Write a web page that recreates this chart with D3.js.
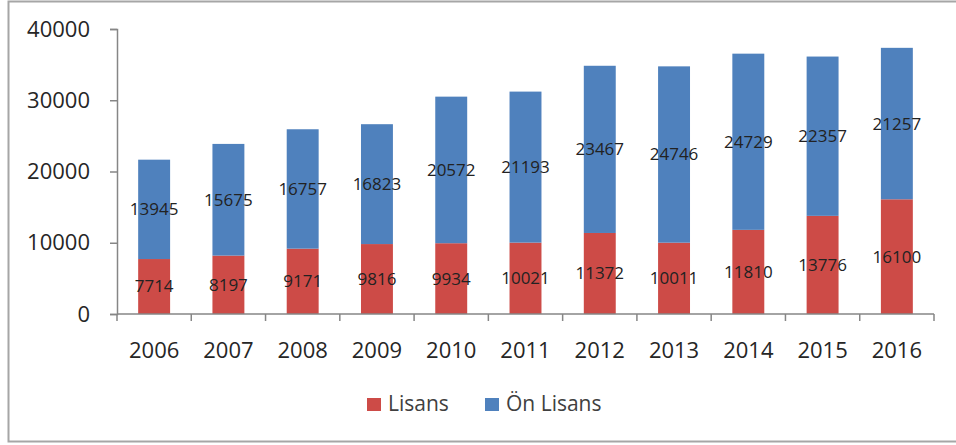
<!DOCTYPE html>
<html>
<head>
<meta charset="utf-8">
<script src="https://cdn.jsdelivr.net/npm/d3@7"></script>
<style>
  body { margin: 0; background: #fff; }
  svg { display: block; font-family: "Open Sans", "Noto Sans", sans-serif; }
</style>
</head>
<body>
<div id="chart"></div>
<script>
// data
var years = ["2006", "2007", "2008", "2009", "2010", "2011", "2012", "2013", "2014", "2015", "2016"];
var lisans = [7714, 8197, 9171, 9816, 9934, 10021, 11372, 10011, 11810, 13776, 16100];
var onLisans = [13945, 15675, 16757, 16823, 20572, 21193, 23467, 24746, 24729, 22357, 21257];
var seriesNames = ["Lisans", "Ön Lisans"];
var yTicks = [0, 10000, 20000, 30000, 40000];

var colors = { "Lisans": "#CD4B47", "Ön Lisans": "#4F81BD" };

var width = 956, height = 445;
var margin = { left: 117, right: 22, top: 29, bottom: 131 };
var plotW = width - margin.left - margin.right;
var plotH = height - margin.top - margin.bottom;

var svg = d3.select("#chart").append("svg")
    .attr("width", width)
    .attr("height", height);

// outer chart frame
svg.append("rect")
    .attr("x", 8.5).attr("y", 1.5)
    .attr("width", 960).attr("height", 440)
    .attr("fill", "#fff")
    .attr("stroke", "#a6a6a6")
    .attr("stroke-width", 2);

var rows = years.map(function(y, i) {
    return { year: y, "Lisans": lisans[i], "Ön Lisans": onLisans[i] };
});
var stacked = d3.stack().keys(seriesNames)(rows);

var x = d3.scaleBand().domain(years).range([0, plotW]).paddingInner(0.57).paddingOuter(0.285);
var xTicks = d3.scaleBand().domain(years).range([0, plotW]);
var y = d3.scaleLinear().domain([0, 40000]).range([plotH, 0]);

var g = svg.append("g").attr("transform", "translate(" + margin.left + "," + margin.top + ")");

// bars
var layers = g.selectAll(".layer").data(stacked).enter().append("g")
    .attr("class", "layer")
    .attr("fill", function(d) { return colors[d.key]; });

layers.selectAll("rect").data(function(d) { return d; }).enter().append("rect")
    .attr("x", function(d) { return x(d.data.year); })
    .attr("y", function(d) { return y(d[1]); })
    .attr("width", x.bandwidth())
    .attr("height", function(d) { return y(d[0]) - y(d[1]); });

// value labels, centered in each segment
layers.selectAll("text").data(function(d) { return d; }).enter().append("text")
    .attr("x", function(d) { return x(d.data.year) + x.bandwidth() / 2; })
    .attr("y", function(d) { return y((d[0] + d[1]) / 2); })
    .attr("dy", "0.35em")
    .attr("text-anchor", "middle")
    .attr("fill", "#222")
    .style("font-size", "17px")
    .text(function(d) { return d[1] - d[0]; });

// y axis
var yAxis = g.append("g")
    .call(d3.axisLeft(y).tickValues(yTicks).tickSize(7).tickPadding(20).tickFormat(d3.format("d")));
yAxis.select(".domain").attr("stroke", "#868686").attr("stroke-width", 1.5);
yAxis.selectAll(".tick line").attr("stroke", "#868686").attr("stroke-width", 1.5);
yAxis.selectAll(".tick text")
    .attr("fill", "#262626")
    .style("font-size", "22px")
    .style("font-family", "'Open Sans', sans-serif");

// x axis: line with ticks between categories
var xg = g.append("g").attr("transform", "translate(0," + plotH + ")");
xg.append("line")
    .attr("x1", 0).attr("x2", plotW)
    .attr("stroke", "#868686").attr("stroke-width", 1.5);
var boundaries = years.map(function(d) { return xTicks(d); }).concat([plotW]);
xg.selectAll(".xt").data(boundaries).enter().append("line")
    .attr("class", "xt")
    .attr("x1", function(d) { return d; }).attr("x2", function(d) { return d; })
    .attr("y1", 0).attr("y2", 7)
    .attr("stroke", "#868686").attr("stroke-width", 1.5);
xg.selectAll(".xl").data(years).enter().append("text")
    .attr("class", "xl")
    .attr("x", function(d) { return xTicks(d) + xTicks.bandwidth() / 2; })
    .attr("y", 44)
    .attr("text-anchor", "middle")
    .attr("fill", "#262626")
    .style("font-size", "22px")
    .text(function(d) { return d; });

// legend
var legend = svg.append("g").attr("transform", "translate(367,404)");
var legendX = [0, 118];
seriesNames.forEach(function(name, i) {
    var item = legend.append("g").attr("transform", "translate(" + legendX[i] + ",0)");
    item.append("rect")
        .attr("x", 0).attr("y", -6)
        .attr("width", 14).attr("height", 13)
        .attr("fill", colors[name]);
    item.append("text")
        .attr("x", 21).attr("y", 0)
        .attr("dy", "0.35em")
        .attr("fill", "#404040")
        .style("font-size", "21px")
        .text(name);
});
</script>
</body>
</html>
